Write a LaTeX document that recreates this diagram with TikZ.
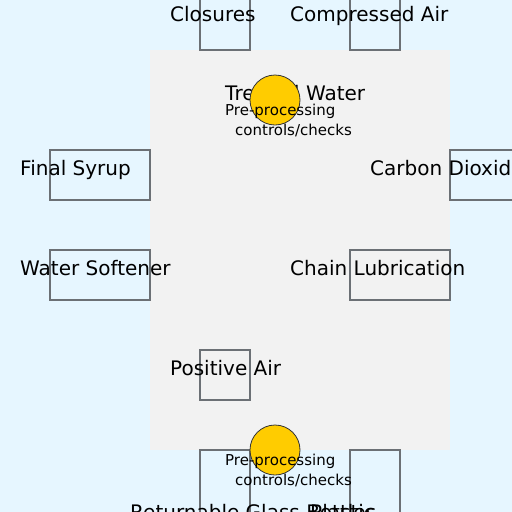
\documentclass[tikz,border=0pt]{standalone}
\usepackage{fontspec}
\setmainfont{DejaVu Sans}
\definecolor{skyback}{HTML}{E6F6FF}
\definecolor{plantgrey}{HTML}{F2F2F2}
\definecolor{boxline}{HTML}{6B7075}
\definecolor{checkfill}{HTML}{FFCC00}
\tikzset{
  unitbox/.style={draw=boxline,line width=1.4pt,inner sep=0pt,minimum width=#1,minimum height=50pt},
  unitbox/.default=50pt,
  label20/.style={anchor=base west,inner sep=0pt,font=\fontsize{20}{24}\selectfont},
  label15/.style={anchor=base west,inner sep=0pt,font=\fontsize{15}{18}\selectfont},
  checkpoint/.style={circle,draw=black!80,line width=0.8pt,fill=checkfill,minimum size=50pt,inner sep=0pt}
}
\begin{document}
\begin{tikzpicture}[x=1pt,y=-1pt]
\useasboundingbox (0,0) rectangle (512,512);
\fill[skyback] (0,0) rectangle (512,512);
\fill[plantgrey] (150,50) rectangle (450,450);
% supply boxes
\node[unitbox] (closuresbox) at (225,20) [minimum height=60pt] {};
\node[unitbox] (airbox) at (375,20) [minimum height=60pt] {};
\node[unitbox=100pt] (syrupbox) at (100,175) {};
\node[unitbox=100pt] (co2box) at (500,175) {};
\node[unitbox=100pt] (softenerbox) at (100,275) {};
\node[unitbox=100pt] (chainbox) at (400,275) {};
\node[unitbox] (posairbox) at (225,375) {};
\node[unitbox] (glassbox) at (225,490) [minimum height=80pt] {};
\node[unitbox] (plasticbox) at (375,490) [minimum height=80pt] {};
% labels
\node[label20] (closures) at (170,21) {Closures};
\node[label20] (compair) at (290,21) {Compressed Air};
\node[label20] (syrup) at (20,175) {Final Syrup};
\node[label20] (co2) at (370,175) {Carbon Dioxide};
\node[label20] (softener) at (20,275) {Water Softener};
\node[label20] (chain) at (290,275) {Chain Lubrication};
\node[label20] (posair) at (170,375) {Positive Air};
\node[label20] (water) at (225,100) {Treated Water};
\node[label20] (glass) at (130,519) {Returnable Glass Bottles};
\node[label20] (plastic) at (310,519) {Plastic};
% checks
\node[checkpoint] (topcheck) at (275,100) {};
\node[checkpoint] (bottomcheck) at (275,450) {};
\node[label15] (toppre) at (225,115) {Pre-processing};
\node[label15] (topctrl) at (235,135) {controls/checks};
\node[label15] (bottompre) at (225,465) {Pre-processing};
\node[label15] (bottomctrl) at (235,485) {controls/checks};
\end{tikzpicture}
\end{document}
